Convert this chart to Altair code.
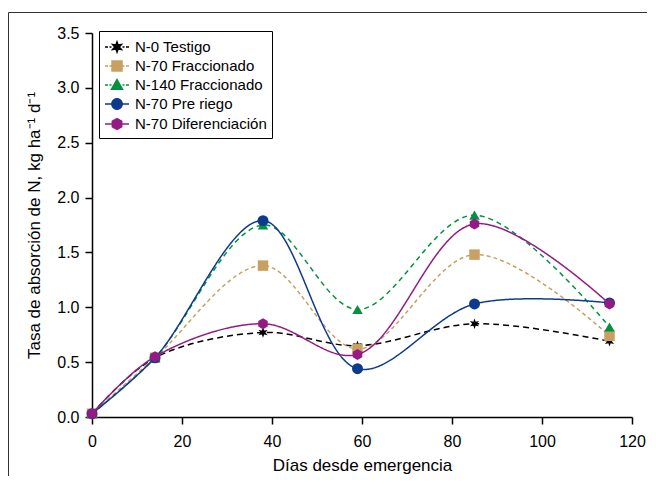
import math
import altair as alt
import pandas as pd

days = [0, 14, 38, 59, 85, 115]
series_names = ["N-0 Testigo", "N-70 Fraccionado", "N-140 Fraccionado", "N-70 Pre riego", "N-70 Diferenciación"]
n0_testigo = [0.03, 0.54, 0.77, 0.65, 0.85, 0.69]
n70_fracc = [0.03, 0.54, 1.38, 0.62, 1.48, 0.74]
n140_fracc = [0.03, 0.54, 1.75, 0.98, 1.84, 0.82]
n70_preriego = [0.03, 0.54, 1.79, 0.44, 1.03, 1.04]
n70_difer = [0.03, 0.55, 0.85, 0.57, 1.76, 1.03]
x_ticks = [0, 20, 40, 60, 80, 100, 120]
y_ticks = [0.0, 0.5, 1.0, 1.5, 2.0, 2.5, 3.0, 3.5]

colors = ["#000000", "#C9A063", "#00923F", "#0D3A8C", "#951B84"]
dashes = [[6, 4], [4, 3], [5, 4], [1, 0], [1, 0]]

FONT = "Liberation Sans"


def star(n, r1, r2):
    pts = []
    for i in range(2 * n):
        rr = r1 if i % 2 == 0 else r2
        a = i * math.pi / n
        pts.append((rr * math.sin(a), -rr * math.cos(a)))
    return "M" + " L".join(f"{x:.3f},{y:.3f}" for x, y in pts) + " Z"


def ngon(n, r, rot=0.0):
    pts = []
    for i in range(n):
        a = rot + i * 2 * math.pi / n
        pts.append((r * math.sin(a), -r * math.cos(a)))
    return "M" + " L".join(f"{x:.3f},{y:.3f}" for x, y in pts) + " Z"


star_path = star(6, 1.0, 0.45)
hex_path = ngon(6, 1.0)
point_shapes = [star_path, "square", "triangle-up", "circle", hex_path]
point_sizes = [110, 110, 110, 120, 120]

# legend symbols: short line + marker (symbol box is 20px, units of 10px)
dash_line = "M-1.2,0 H-0.9 M-0.75,0 H-0.55 M0.55,0 H0.75 M0.9,0 H1.2 "
solid_line = "M-1.2,0 H1.2 "
lg_star = star(6, 0.5, 0.22)
lg_square = "M-0.5,-0.5 H0.5 V0.5 H-0.5 Z"
lg_tri = "M0,-0.55 L0.55,0.42 L-0.55,0.42 Z"
lg_circle = ngon(20, 0.52)
lg_hex = ngon(6, 0.54)
legend_shapes = [dash_line + lg_star, dash_line + lg_square, dash_line + lg_tri,
                 solid_line + lg_circle, solid_line + lg_hex]

values = [n0_testigo, n70_fracc, n140_fracc, n70_preriego, n70_difer]
rows = []
for name, vals in zip(series_names, values):
    for d, v in zip(days, vals):
        rows.append({"serie": name, "dias": d, "tasa": v})
df = pd.DataFrame(rows)

xscale = alt.Scale(domain=[0, 120], nice=False)
yscale = alt.Scale(domain=[0, 3.5], nice=False)

xenc = alt.X("dias:Q", scale=xscale,
             axis=alt.Axis(values=x_ticks, title="Días desde emergencia", format="d"))
yenc = alt.Y("tasa:Q", scale=yscale,
             axis=alt.Axis(values=y_ticks, format=".1f",
                           title="Tasa de absorción de N, kg ha⁻¹ d⁻¹"))

base = alt.Chart(df)
layers = []
for i, name in enumerate(series_names):
    sub = base.transform_filter(alt.datum.serie == name)
    layers.append(
        sub.mark_line(interpolate="catmull-rom", color=colors[i], strokeWidth=1.5,
                      strokeDash=dashes[i]).encode(x=xenc, y=yenc)
    )
    layers.append(
        sub.mark_point(filled=True, shape=point_shapes[i], size=point_sizes[i],
                       color=colors[i], opacity=1, strokeWidth=0).encode(x=xenc, y=yenc)
    )

# legend-only layer (points fall outside the plot and are clipped)
leg_df = pd.DataFrame({"serie": series_names, "dias": [-50] * 5, "tasa": [-1] * 5})
leg = alt.Legend(title=None, orient="none", legendX=7, legendY=-2)
legend_layer = alt.Chart(leg_df).mark_point(filled=True, opacity=1, clip=True, strokeWidth=1.5).encode(
    x=alt.X("dias:Q", scale=xscale),
    y=alt.Y("tasa:Q", scale=yscale),
    color=alt.Color("serie:N", scale=alt.Scale(domain=series_names, range=colors), legend=leg),
    stroke=alt.Stroke("serie:N", scale=alt.Scale(domain=series_names, range=colors), legend=leg),
    shape=alt.Shape("serie:N", scale=alt.Scale(domain=series_names, range=legend_shapes), legend=leg),
)

# decorative frame of the figure (top and left edges)
frame_top = alt.Chart(pd.DataFrame({"a": [0]})).mark_rule(color="#333333", strokeWidth=1).encode(
    x=alt.value(-83.5), x2=alt.value(555), y=alt.value(-20.5))
frame_left = alt.Chart(pd.DataFrame({"a": [0]})).mark_rule(color="#333333", strokeWidth=1).encode(
    x=alt.value(-83.5), y=alt.value(-20.5), y2=alt.value(445))

chart = alt.layer(frame_top, frame_left, *layers, legend_layer).properties(
    width=540, height=384,
    autosize=alt.AutoSizeParams(type="none"),
    padding={"left": 84, "top": 25, "right": 16, "bottom": 59},
).configure_view(stroke=None).configure_axis(
    grid=False, domainColor="black", tickColor="black", labelColor="black", titleColor="black",
    domainWidth=1.5, tickWidth=1.5, tickSize=7, labelFont=FONT, titleFont=FONT,
    labelFontSize=16, titleFontSize=17, titleFontWeight="normal", labelFlush=False,
).configure_axisX(labelPadding=9, titlePadding=8).configure_axisY(
    labelPadding=6, titlePadding=13
).configure_legend(
    labelFont=FONT, labelFontSize=15, labelColor="black", symbolSize=400,
    symbolStrokeWidth=1.5, strokeColor="black", fillColor="white", padding=5,
    rowPadding=0, labelOffset=7, cornerRadius=0, symbolOffset=2,
)

chart.save("out.html", embed_options={"renderer": "svg", "actions": False})
